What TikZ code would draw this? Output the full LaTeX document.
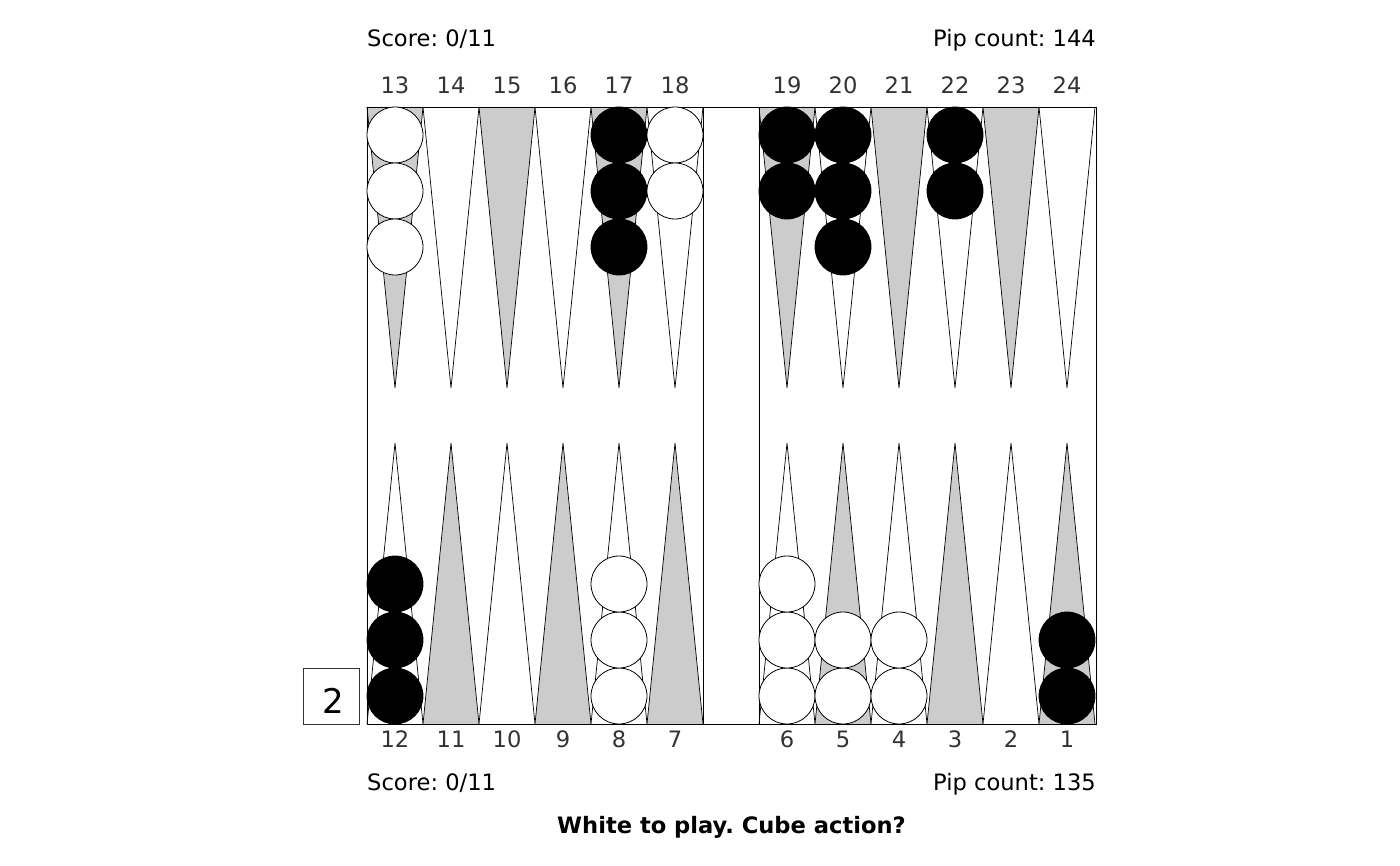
\documentclass[tikz,border=0pt]{standalone}
\usepackage{fontspec}
\setmainfont{DejaVu Sans}
\frenchspacing
\definecolor{ptgray}{HTML}{CCCCCC}
\definecolor{numgray}{HTML}{333333}
\begin{document}
\begin{tikzpicture}[x=1pt,y=-1pt,
  lbl/.style={inner sep=0pt,font=\fontsize{22.6}{26}\selectfont},
  num/.style={lbl,anchor=base,text=numgray},
  tri/.style={draw=black,line width=0.7pt,line join=miter},
  wck/.style={circle,draw=black,fill=white,line width=0.8pt,minimum size=56pt,inner sep=0pt},
  bck/.style={circle,draw=black,fill=black,line width=0.8pt,minimum size=56pt,inner sep=0pt},
  frame/.style={draw=black,line width=0.9pt}]
\useasboundingbox (0,0) rectangle (1400,866);
% triangles
\foreach \k in {0,...,5}{
  \pgfmathsetmacro{\xl}{395+56*\k}
  \pgfmathsetmacro{\xr}{787+56*\k}
  \pgfmathtruncatemacro{\parity}{mod(\k,2)}
  \ifnum\parity=0
    \def\tc{ptgray}\def\bc{white}
  \else
    \def\tc{white}\def\bc{ptgray}
  \fi
  \draw[tri,fill=\tc] (\xl-28,107) -- (\xl,388) -- (\xl+28,107);
  \draw[tri,fill=\tc] (\xr-28,107) -- (\xr,388) -- (\xr+28,107);
  \draw[tri,fill=\bc] (\xl-28,724) -- (\xl,443) -- (\xl+28,724);
  \draw[tri,fill=\bc] (\xr-28,724) -- (\xr,443) -- (\xr+28,724);
}
% board frame
\draw[frame] (367,107) rectangle (1096,724);
\draw[frame] (703,107) -- (703,724);
\draw[frame] (759,107) -- (759,724);
% checkers top
\foreach \y [count=\i] in {135,191,247}{
  \node[wck] (p13c\i) at (395,\y) {};
  \node[bck] (p17c\i) at (619,\y) {};
  \node[bck] (p20c\i) at (843,\y) {};
}
\foreach \y [count=\i] in {135,191}{
  \node[wck] (p18c\i) at (675,\y) {};
  \node[bck] (p19c\i) at (787,\y) {};
  \node[bck] (p22c\i) at (955,\y) {};
}
% checkers bottom
\foreach \y [count=\i] in {696,640,584}{
  \node[bck] (p12c\i) at (395,\y) {};
  \node[wck] (p8c\i) at (619,\y) {};
  \node[wck] (p6c\i) at (787,\y) {};
}
\foreach \y [count=\i] in {696,640}{
  \node[wck] (p5c\i) at (843,\y) {};
  \node[wck] (p4c\i) at (899,\y) {};
  \node[bck] (p1c\i) at (1067,\y) {};
}
% point numbers
\foreach \n [count=\i from 0] in {13,14,15,16,17,18}{
  \node[num] (t\n) at (395+56*\i,94) {\n};
}
\foreach \n [count=\i from 0] in {19,20,21,22,23,24}{
  \node[num] (t\n) at (787+56*\i,94) {\n};
}
\foreach \n [count=\i from 0] in {12,11,10,9,8,7}{
  \node[num] (b\n) at (395+56*\i,747) {\n};
}
\foreach \n [count=\i from 0] in {6,5,4,3,2,1}{
  \node[num] (b\n) at (787+56*\i,747) {\n};
}
% cube
\draw[draw=numgray,line width=0.9pt] (303,668) rectangle (359,724);
\node[inner sep=0pt,anchor=base,font=\fontsize{34}{40}\selectfont] (cube) at (333,713) {2};
% texts
\node[lbl,anchor=base west] (scoretop) at (367,47) {Score: 0/11};
\node[lbl,anchor=base east] (piptop) at (1096,47) {Pip count: 144};
\node[lbl,anchor=base west] (scorebot) at (367,790) {Score: 0/11};
\node[lbl,anchor=base east] (pipbot) at (1096,790) {Pip count: 135};
\node[lbl,anchor=base,font=\fontsize{22.6}{26}\selectfont\bfseries] (title) at (731.5,833) {White to play. Cube action?};
\end{tikzpicture}
\end{document}
